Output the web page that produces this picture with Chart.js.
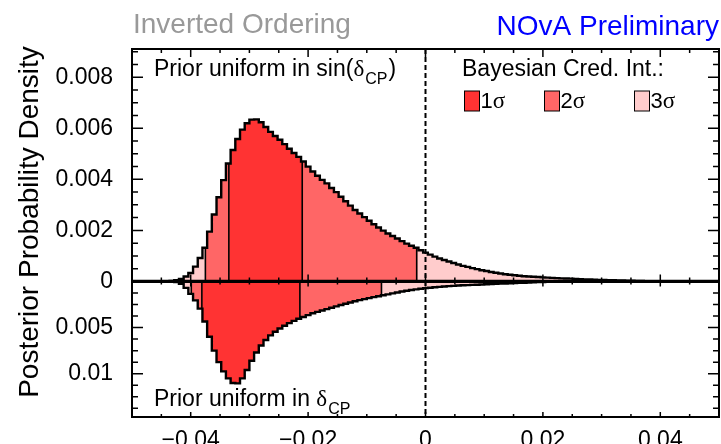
<!DOCTYPE html>
<html>
<head>
<meta charset="utf-8">
<script src="https://cdn.jsdelivr.net/npm/chart.js@4.4.0/dist/chart.umd.min.js"></script>
<style>
  html, body { margin: 0; padding: 0; background: #fff; }
  canvas { display: block; }
</style>
</head>
<body>
<canvas id="posteriorChart" width="721" height="444"></canvas>
<script>
// ==========================
// DATA
// ==========================
// histogram binning on the x axis
const binStart = -0.05;
const binWidth = 0.0008;
const densityUnit = 1e-3; // bin contents below are in units of 1e-3

// top pad: prior uniform in sin(dCP)
const upperDensity = [
  0, 0, 0, 0, 0, 0, 0,
  0.01, 0.02, 0.05, 0.10, 0.19, 0.33, 0.58, 0.92, 1.32, 1.95,
  2.62, 3.30, 3.97, 4.62, 5.15, 5.58, 5.95, 6.20, 6.34, 6.35,
  6.24, 6.05, 5.86, 5.70, 5.55, 5.38, 5.20, 5.03, 4.88, 4.70,
  4.50, 4.31, 4.14, 3.98, 3.84, 3.66, 3.50, 3.32, 3.14, 2.97,
  2.80, 2.66, 2.52, 2.38, 2.24, 2.11, 1.99, 1.88, 1.78, 1.68,
  1.58, 1.48, 1.40, 1.32, 1.22, 1.13, 1.05, 0.97, 0.90, 0.84,
  0.78, 0.72, 0.66, 0.61, 0.57, 0.52, 0.48, 0.44, 0.41, 0.37,
  0.34, 0.31, 0.28, 0.26, 0.24, 0.22, 0.20, 0.19, 0.18, 0.17,
  0.16, 0.15, 0.14, 0.13, 0.12, 0.115, 0.11, 0.10, 0.09, 0.08,
  0.075, 0.07, 0.06, 0.055, 0.05, 0.045, 0.04, 0.035, 0.03, 0.025,
  0.02, 0.015, 0.01, 0.01, 0.005, 0.005,
  0, 0, 0, 0, 0, 0, 0, 0, 0, 0, 0, 0
];

// bottom pad: prior uniform in dCP (drawn downwards)
const lowerDensity = [
  0, 0, 0, 0, 0, 0, 0, 0,
  0.02, 0.08, 0.25, 0.70, 1.35, 2.05, 2.95, 4.35, 6.00, 7.50,
  8.75, 9.75, 10.5, 11.0, 11.05, 10.5, 9.60, 8.60, 7.70, 6.95,
  6.35, 5.85, 5.45, 5.10, 4.80, 4.52, 4.28, 4.05, 3.85, 3.65,
  3.45, 3.30, 3.15, 3.00, 2.85, 2.70, 2.56, 2.42, 2.28, 2.15,
  2.03, 1.92, 1.81, 1.70, 1.60, 1.50, 1.40, 1.30, 1.20, 1.10,
  1.01, 0.93, 0.86, 0.79, 0.73, 0.68, 0.63, 0.59, 0.55, 0.51,
  0.48, 0.45, 0.42, 0.40, 0.38, 0.36, 0.34, 0.31, 0.28, 0.26,
  0.24, 0.22, 0.20, 0.18, 0.16, 0.14, 0.12, 0.10, 0.08, 0.06,
  0.05, 0.04, 0.03, 0.02, 0.01,
  0, 0, 0, 0, 0, 0, 0, 0, 0, 0, 0, 0, 0, 0, 0, 0,
  0, 0, 0, 0, 0, 0, 0, 0, 0, 0, 0, 0, 0, 0, 0, 0
];

// credible interval regions (edges + sigma level of each slice)
const upperRegionEdges = [-0.05, -0.0375, -0.0335, -0.0210, -0.0015, 0.05];
const upperRegionSigma = [3, 2, 1, 2, 3];
const lowerRegionEdges = [-0.05, -0.0399, -0.0381, -0.0214, -0.0075, 0.05];
const lowerRegionSigma = [3, 2, 1, 2, 3];

// axes
const xRange = [-0.05, 0.05];
const xTicks = [-0.04, -0.02, 0, 0.02, 0.04];
const xTickLabels = ["\u22120.04", "\u22120.02", "0", "0.02", "0.04"];
const upperMax = 0.009108;
const upperTicks = [0, 0.002, 0.004, 0.006, 0.008];
const upperTickLabels = ["0", "0.002", "0.004", "0.006", "0.008"];
const lowerMax = 0.01469;
const lowerTicks = [0.005, 0.01];
const lowerTickLabels = ["0.005", "0.01"];

const legendLabels = ["1", "2", "3"];

// ==========================
// STYLE
// ==========================
const sigmaColors = { 1: "#ff3333", 2: "#ff6666", 3: "#ffcccc" };
const SANS = '"Liberation Sans", Arial, Helvetica, sans-serif';
const SERIF = '"Liberation Serif", "Times New Roman", serif';

Chart.defaults.font.family = SANS;
Chart.defaults.color = "#000";

// ==========================
// BUILD DATASETS
// ==========================
function binIndex(values, x) {
  return Math.max(0, Math.min(values.length - 1, Math.floor((x - binStart) / binWidth + 1e-9)));
}
function valueAt(values, x) {
  return values[binIndex(values, x)] * densityUnit;
}

// histogram corners for the slice [from, to], closed down to zero at "to"
function regionPoints(values, from, to) {
  let cur = valueAt(values, from);
  const pts = [{ x: from, y: cur }];
  for (let k = 0; k < values.length; k++) {
    const edge = binStart + k * binWidth;
    if (edge > from + 1e-9 && edge < to - 1e-9) {
      const next = values[k] * densityUnit;
      pts.push({ x: edge, y: cur });
      pts.push({ x: edge, y: next });
      cur = next;
    }
  }
  pts.push({ x: to, y: cur });
  pts.push({ x: to, y: 0 });
  return pts;
}

function histDatasets(values, edges, sigmas, axisId) {
  const sets = [];
  // coloured slices
  sigmas.forEach((s, i) => {
    sets.push({
      data: regionPoints(values, edges[i], edges[i + 1]),
      yAxisID: axisId,
      fill: "origin",
      backgroundColor: sigmaColors[s],
      borderColor: sigmaColors[s],
      borderWidth: 0.5,
      pointRadius: 0,
      order: 3,
    });
  });
  // black dividers between slices
  for (let i = 1; i < edges.length - 1; i++) {
    sets.push({
      data: [{ x: edges[i], y: 0 }, { x: edges[i], y: valueAt(values, edges[i]) }],
      yAxisID: axisId,
      fill: false,
      borderColor: "#000",
      borderWidth: 1.6,
      pointRadius: 0,
      order: 2,
    });
  }
  // outline of the whole histogram
  sets.push({
    data: regionPoints(values, xRange[0], xRange[1]),
    yAxisID: axisId,
    fill: false,
    borderColor: "#000",
    borderWidth: 2.4,
    borderJoinStyle: "miter",
    pointRadius: 0,
    order: 1,
  });
  return sets;
}

const datasets = [
  ...histDatasets(upperDensity, upperRegionEdges, upperRegionSigma, "y"),
  ...histDatasets(lowerDensity, lowerRegionEdges, lowerRegionSigma, "y2"),
];

// ==========================
// FRAME, TICKS, TEXT (ROOT style)
// ==========================
const rootStyle = {
  id: "rootStyle",
  afterDatasetsDraw(chart) {
    const { ctx, chartArea: a, scales } = chart;
    const x = scales.x, yU = scales.y, yL = scales.y2;
    const y0 = yU.getPixelForValue(0);

    ctx.save();
    ctx.strokeStyle = "#000";

    // dashed line at x = 0
    ctx.lineWidth = 2;
    ctx.setLineDash([5, 3]);
    ctx.beginPath();
    ctx.moveTo(x.getPixelForValue(0), a.top);
    ctx.lineTo(x.getPixelForValue(0), a.bottom);
    ctx.stroke();
    ctx.setLineDash([]);

    // zero line between the two pads
    ctx.lineWidth = 3.2;
    ctx.beginPath();
    ctx.moveTo(a.left, y0);
    ctx.lineTo(a.right, y0);
    ctx.stroke();

    // ticks
    ctx.lineWidth = 1.5;
    ctx.beginPath();
    for (let i = -10; i <= 10; i++) {
      const px = x.getPixelForValue(i * 0.005);
      const major = i % 4 === 0;
      ctx.moveTo(px, a.top); ctx.lineTo(px, a.top + (major ? 8 : 4));
      ctx.moveTo(px, y0); ctx.lineTo(px, y0 - (major ? 7 : 4));
      ctx.moveTo(px, y0); ctx.lineTo(px, y0 + (major ? 5 : 3));
      ctx.moveTo(px, a.bottom); ctx.lineTo(px, a.bottom - (major ? 5 : 3));
    }
    for (let j = 0; j * 0.0005 <= upperMax; j++) {
      const py = yU.getPixelForValue(j * 0.0005);
      const len = j % 4 === 0 ? 11 : 6;
      ctx.moveTo(a.left, py); ctx.lineTo(a.left + len, py);
      ctx.moveTo(a.right, py); ctx.lineTo(a.right - len, py);
    }
    for (let j = 1; j * 0.00125 <= lowerMax; j++) {
      const py = yL.getPixelForValue(j * 0.00125);
      const len = j % 4 === 0 ? 11 : 6;
      ctx.moveTo(a.left, py); ctx.lineTo(a.left + len, py);
      ctx.moveTo(a.right, py); ctx.lineTo(a.right - len, py);
    }
    ctx.stroke();

    // frame
    ctx.lineWidth = 2;
    ctx.strokeRect(a.left, a.top, a.right - a.left, a.bottom - a.top);
    ctx.restore();
  },
  afterDraw(chart) {
    const { ctx } = chart;
    ctx.save();
    ctx.textBaseline = "alphabetic";

    // pad titles
    ctx.font = "28px " + SANS;
    ctx.fillStyle = "#999999";
    ctx.textAlign = "left";
    ctx.fillText("Inverted Ordering", 133, 33);
    ctx.fillStyle = "#0000ff";
    ctx.textAlign = "right";
    ctx.fillText("NOvA Preliminary", 719, 35);

    // y axis title
    ctx.fillStyle = "#000";
    ctx.textAlign = "center";
    ctx.translate(38, 222);
    ctx.rotate(-Math.PI / 2);
    ctx.fillText("Posterior Probability Density", 0, 0);
    ctx.setTransform(1, 0, 0, 1, 0, 0);

    // prior labels
    ctx.textAlign = "left";
    function priorLabel(prefix, suffix, x0, base) {
      let xp = x0;
      ctx.font = "23px " + SANS;
      ctx.fillText(prefix, xp, base);
      xp += ctx.measureText(prefix).width;
      ctx.font = "23px " + SERIF;
      ctx.fillText("\u03b4", xp, base);
      xp += ctx.measureText("\u03b4").width + 1;
      ctx.font = "16px " + SANS;
      ctx.fillText("CP", xp, base + 8);
      xp += ctx.measureText("CP").width + 1;
      if (suffix) {
        ctx.font = "23px " + SANS;
        ctx.fillText(suffix, xp, base);
      }
    }
    priorLabel("Prior uniform in sin(", ")", 154, 76);
    priorLabel("Prior uniform in ", "", 154, 406);

    // legend
    ctx.font = "23px " + SANS;
    ctx.fillText("Bayesian Cred. Int.:", 462, 76);
    const boxX = [464.5, 544.5, 634.5];
    legendLabels.forEach((lab, i) => {
      ctx.fillStyle = sigmaColors[i + 1];
      ctx.fillRect(boxX[i], 91, 15, 20);
      ctx.strokeStyle = "#000";
      ctx.lineWidth = 1;
      ctx.strokeRect(boxX[i], 91, 15, 20);
      ctx.fillStyle = "#000";
      ctx.font = "22px " + SANS;
      ctx.fillText(lab, boxX[i] + 16, 108);
      const w = ctx.measureText(lab).width;
      ctx.font = "23px " + SERIF;
      ctx.fillText("\u03c3", boxX[i] + 16 + w, 108);
    });
    ctx.restore();
  },
};

// ==========================
// CHART
// ==========================
const ctx = document.getElementById("posteriorChart").getContext("2d");
const chart = new Chart(ctx, {
  type: "line",
  data: { datasets },
  plugins: [rootStyle],
  options: {
    responsive: false,
    animation: false,
    devicePixelRatio: 1,
    layout: { padding: { top: 49, right: 2, left: 0, bottom: 0 } },
    plugins: { legend: { display: false }, tooltip: { enabled: false } },
    scales: {
      x: {
        type: "linear",
        min: xRange[0],
        max: xRange[1],
        grid: { display: false },
        border: { display: false },
        afterBuildTicks: (s) => { s.ticks = xTicks.map((v) => ({ value: v })); },
        afterFit: (s) => { s.height = 27; },
        ticks: {
          autoSkip: false,
          maxRotation: 0,
          padding: 2,
          font: { size: 23 },
          callback: (v, i) => xTickLabels[i],
        },
      },
      // lower pad axis is declared first so that it ends up below the upper pad
      y2: {
        type: "linear",
        position: "left",
        stack: "pads",
        stackWeight: 135.7,
        reverse: true,
        min: 0,
        max: lowerMax,
        grid: { display: false },
        border: { display: false },
        afterBuildTicks: (s) => { s.ticks = lowerTicks.map((v) => ({ value: v })); },
        afterFit: (s) => { s.width = 132; },
        ticks: {
          autoSkip: false,
          padding: 11,
          font: { size: 23 },
          callback: (v, i) => lowerTickLabels[i],
        },
      },
      y: {
        type: "linear",
        position: "left",
        stack: "pads",
        stackWeight: 232.6,
        min: 0,
        max: upperMax,
        grid: { display: false },
        border: { display: false },
        afterBuildTicks: (s) => { s.ticks = upperTicks.map((v) => ({ value: v })); },
        afterFit: (s) => { s.width = 132; },
        ticks: {
          autoSkip: false,
          padding: 11,
          font: { size: 23 },
          callback: (v, i) => upperTickLabels[i],
        },
      },
    },
  },
});
</script>
</body>
</html>
